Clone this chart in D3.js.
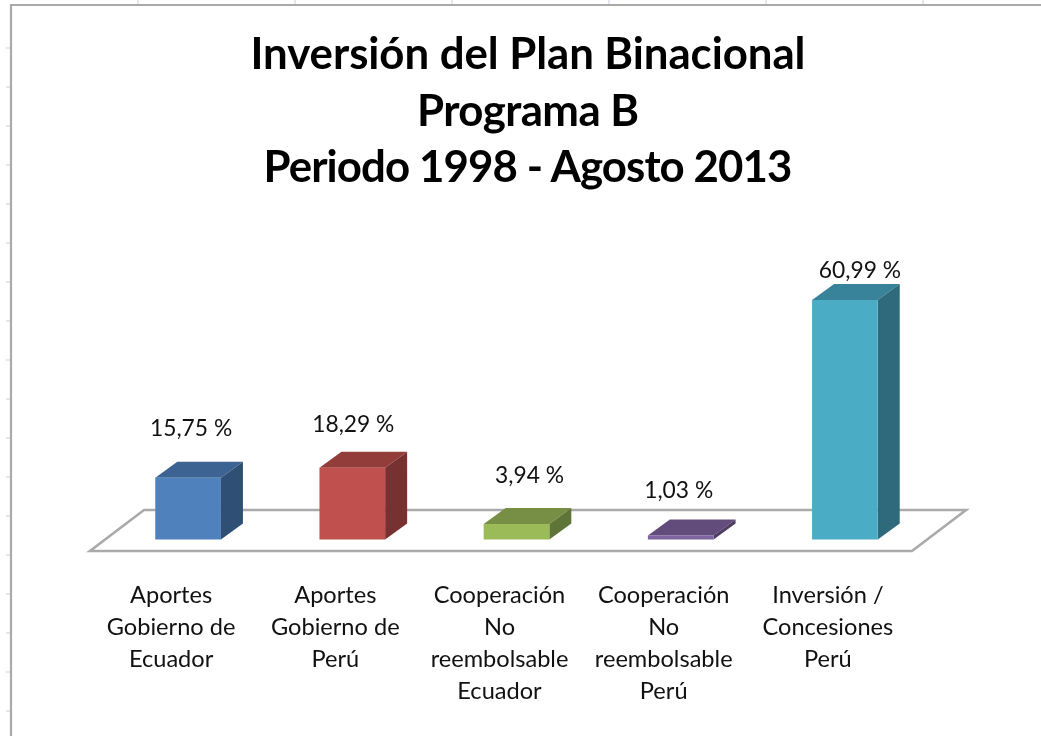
<!DOCTYPE html>
<html>
<head>
<meta charset="utf-8">
<script src="https://cdn.jsdelivr.net/npm/d3@7"></script>
<style>
  html, body { margin: 0; padding: 0; background: #fff; }
  svg { display: block; filter: blur(0.5px); }
  text { font-family: Lato, "Open Sans", sans-serif; fill: #111; }
</style>
</head>
<body>
<div id="chart"></div>
<script>
const titleLines = ['Inversión del Plan Binacional', 'Programa B', 'Periodo 1998 - Agosto 2013'];
const categories = [
  'Aportes\nGobierno de\nEcuador',
  'Aportes\nGobierno de\nPerú',
  'Cooperación\nNo\nreembolsable\nEcuador',
  'Cooperación\nNo\nreembolsable\nPerú',
  'Inversión /\nConcesiones\nPerú'
];
const values = [15.75, 18.29, 3.94, 1.03, 60.99];
const frontColors = ['#4f81bd', '#c0504d', '#9bbb59', '#8064a2', '#4bacc6'];
const topColors = ['#3c6391', '#933d3b', '#768f44', '#624c7c', '#39839a'];
const sideColors = ['#2f4f75', '#773130', '#5f7437', '#4f3d64', '#2e6a7c'];

const width = 1041, height = 736;
const baseY = 539.5;
const depth = {x: 22, y: -16};
const floor = {left: 90, right: 912, y: 551, dx: 54, dy: -41};
// lato runs wider than the original font, the title lines are held to its widths
const titleWidths = [555, 222, 529];
// excel placed these labels by hand, so they do not sit centred over the bars
const labelNudge = [[3, -42], [1, -36], [13, -41], [-2, -37.5], [15, -22]];

const svg = d3.select('#chart').append('svg')
  .attr('width', width)
  .attr('height', height);

const x = d3.scaleBand()
  .domain(categories)
  .range([106, 927])
  .paddingInner(0.6)
  .paddingOuter(0.3);

const y = d3.scaleLinear()
  .domain([0, 60.99])
  .range([baseY, 300]);

/*worksheet behind the chart*/
const sheet = svg.append('g').attr('stroke', '#d0d7e5').attr('stroke-width', 1.2);
sheet.selectAll('.row')
  .data(d3.range(48, height, 39))
  .enter().append('line')
  .attr('x1', 6).attr('x2', 11)
  .attr('y1', d => d).attr('y2', d => d);
sheet.selectAll('.col')
  .data(d3.range(138, width, 157))
  .enter().append('line')
  .attr('y1', 0).attr('y2', 5)
  .attr('x1', d => d).attr('x2', d => d);

svg.append('path')
  .attr('d', `M11,${height}V5H${width}`)
  .attr('fill', 'none')
  .attr('stroke', '#aaa')
  .attr('stroke-width', 2.2);

/*title*/
svg.append('g').selectAll('text')
  .data(titleLines)
  .enter().append('text')
  .attr('x', 528)
  .attr('y', (d, i) => 69 + i * 56.5)
  .attr('text-anchor', 'middle')
  .attr('font-size', 43.8)
  .attr('font-weight', 700)
  .attr('textLength', (d, i) => titleWidths[i])
  .style('fill', '#000')
  .text(d => d);

/*floor*/
svg.append('path')
  .attr('d', `M${floor.left},${floor.y}H${floor.right}L${floor.right + floor.dx},${floor.y + floor.dy}H${floor.left + floor.dx}Z`)
  .attr('fill', '#fff')
  .attr('stroke', '#aaa')
  .attr('stroke-width', 2.6);

/*bars*/
const bar = svg.append('g').selectAll('g')
  .data(values)
  .enter().append('g');

const barLeft = i => x(categories[i]);
const barRight = i => x(categories[i]) + x.bandwidth();

bar.append('path')
  .attr('fill', (d, i) => topColors[i])
  .attr('d', (d, i) => `M${barLeft(i)},${y(d)}H${barRight(i)}l${depth.x},${depth.y}H${barLeft(i) + depth.x}Z`);

bar.append('path')
  .attr('fill', (d, i) => sideColors[i])
  .attr('d', (d, i) => `M${barRight(i)},${y(d)}V${baseY}l${depth.x},${depth.y}V${y(d) + depth.y}Z`);

bar.append('rect')
  .attr('x', (d, i) => barLeft(i))
  .attr('y', d => y(d))
  .attr('width', x.bandwidth())
  .attr('height', d => baseY - y(d))
  .attr('fill', (d, i) => frontColors[i]);

/*value labels*/
bar.append('text')
  .attr('x', (d, i) => barLeft(i) + x.bandwidth() / 2 + labelNudge[i][0])
  .attr('y', (d, i) => y(d) + labelNudge[i][1])
  .attr('text-anchor', 'middle')
  .attr('font-size', 22.8)
  .text(d => `${d3.format('.2f')(d).replace('.', ',')} %`);

/*category axis, the ticks are split into lines after the axis is drawn*/
const axis = svg.append('g')
  .attr('transform', 'translate(-17, 580)')
  .call(d3.axisBottom(x).tickSize(0).tickPadding(0));

axis.select('.domain').remove();

axis.selectAll('.tick text')
  .attr('font-size', 23.6)
  .attr('font-family', null)
  .attr('fill', '#111')
  .each(function(d){
    const label = d3.select(this);
    label.text(null).attr('y', 0).attr('dy', null);
    d.split('\n').forEach((line, i) => {
      label.append('tspan')
        .attr('x', 0)
        .attr('y', 22.5 + i * 32)
        .text(line);
    });
  });
</script>
</body>
</html>
